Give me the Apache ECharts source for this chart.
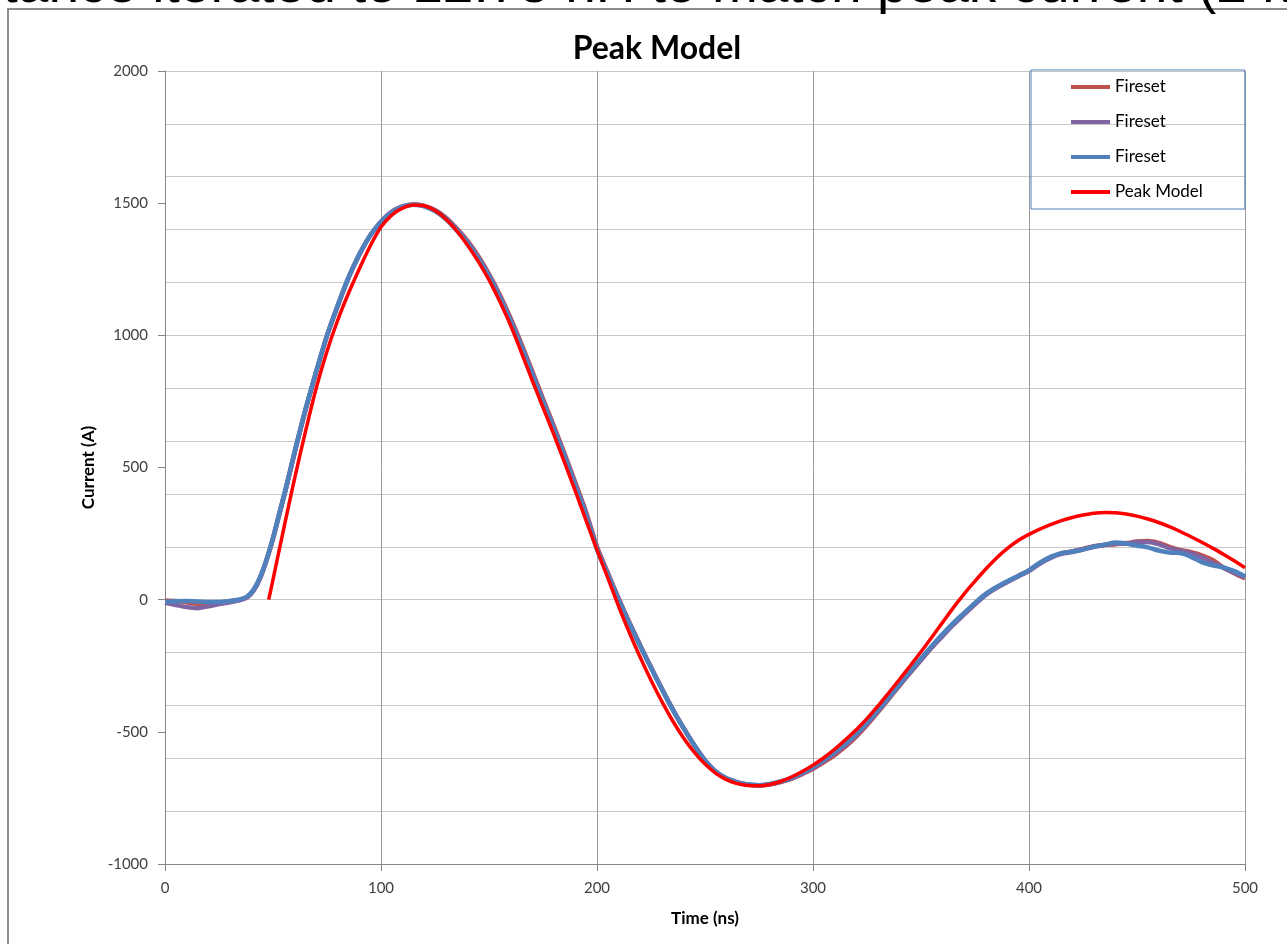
<!DOCTYPE html>
<html><head><meta charset="utf-8">
<script src="https://cdn.jsdelivr.net/npm/echarts@6/dist/echarts.min.js"></script>
<style>html,body{margin:0;padding:0;background:#fff}#c{width:1287px;height:944px}</style>
</head><body><div id="c"></div>
<script>
const chartTitle = 'Peak Model';
const slideTitle = 'Inductance iterated to 12.75 nH to match peak current (2 kV)';
const xName = 'Time (ns)';
const yName = 'Current (A)';
const seriesNames = ['Fireset 1', 'Fireset 2', 'Fireset 3', 'Peak Model'];

const fsTime = [0,5,10,15,20,25,30,35,38,41,44,47,50,53,56,
  60,65,70,75,80,85,90,95,100,105,110,115,120,125,130,135,140,145,150,155,
  160,165,170,175,180,185,190,195,200,205,210,215,220,225,230,235,240,245,250,255,
  260,265,270,275,280,285,290,295,300,305,310,315,320,325,330,335,340,345,350,355,
  360,365,370,375,380,385,390,395,400,405,410,415,420,425,430,435,440,445,450,455,
  460,465,470,475,480,485,490,495,500];

const fireset1 = [-3,-5,-10,-15,-14,-12,-6,0,10,36,82,150,232,326,420,
  555,715,860,998,1112,1218,1306,1378,1430,1468,1488,1495,1490,1474,1446,1405,1358,1300,1232,1154,
  1065,968,865,760,658,552,442,330,200,102,5,-86,-172,-255,-336,-414,-484,-550,-608,-652,
  -678,-692,-700,-703,-699,-690,-678,-660,-640,-615,-588,-556,-518,-474,-426,-376,-326,-276,-228,-180,
  -134,-92,-54,-16,20,46,68,90,110,138,160,175,182,192,202,207,210,214,220,222,
  215,200,188,180,168,150,122,100,80];

const fireset2 = [-12,-20,-28,-32,-25,-17,-10,-2,8,34,80,148,230,324,420,
  556,716,862,998,1112,1218,1306,1378,1430,1467,1488,1494,1489,1472,1443,1402,1354,1295,1228,1148,
  1058,962,858,754,651,546,436,324,195,98,2,-88,-174,-257,-337,-415,-485,-550,-608,-651,
  -677,-691,-699,-702,-698,-689,-676,-658,-636,-610,-581,-550,-512,-469,-422,-374,-324,-276,-228,-181,
  -138,-95,-56,-18,18,45,67,88,108,136,158,173,180,190,200,207,212,212,218,218,
  210,195,185,175,160,140,120,102,85];

const fireset3 = [-8,-6,-5,-7,-9,-9,-5,2,12,38,85,152,235,330,425,
  560,720,865,1000,1115,1220,1308,1378,1430,1466,1487,1494,1488,1470,1440,1398,1350,1290,1222,1142,
  1052,955,852,748,645,540,430,318,190,95,0,-90,-175,-258,-338,-415,-485,-550,-608,-650,
  -676,-690,-699,-702,-697,-688,-674,-655,-632,-606,-576,-545,-508,-465,-418,-370,-320,-270,-222,-175,
  -130,-88,-50,-12,22,48,70,90,112,140,162,176,182,190,200,208,216,212,204,198,
  186,178,176,162,142,130,122,108,88];

const modelTime = [48,50,55,60,65,70,75,80,85,90,95,100,105,110,115,120,125,130,135,140,145,150,155,
  160,165,170,175,180,185,190,195,200,205,210,215,220,225,230,235,240,245,250,255,
  260,265,270,275,280,285,290,295,300,305,310,315,320,325,330,335,340,345,350,355,
  360,365,370,375,380,385,390,395,400,405,410,415,420,425,430,435,440,445,450,455,
  460,465,470,475,480,485,490,495,500];

const peakModel = [0,76,270,458,635,800,940,1058,1160,1252,1338,1410,1455,1481,1493,1490,1472,1440,1396,1342,1280,1210,1128,
  1038,935,830,727,625,518,410,298,188,82,-25,-125,-218,-305,-385,-458,-522,-577,-622,-657,
  -681,-696,-703,-704,-699,-688,-671,-650,-626,-598,-566,-530,-492,-450,-403,-353,-302,-250,-197,-142,
  -86,-30,22,70,116,158,194,224,247,267,284,299,311,320,327,330,329,324,316,305,
  292,276,258,238,217,195,172,147,121];

const yMin = -1000, yMax = 2000, yLabelStep = 500, yGridStep = 200;
const xMin = 0, xMax = 500, xStep = 100;

function pairs(t, v) { return t.map((x, i) => [x, v[i]]); }

const colors = ['#C0504D', '#8064A2', '#4F81BD', '#FF0000'];
const font = 'Lato';
const plain = v => String(v);

const chart = echarts.init(document.getElementById('c'), null, {renderer: 'canvas'});
chart.setOption({
  animation: false,
  backgroundColor: '#fff',
  color: colors,
  title: {
    text: chartTitle, left: 652, top: 28, textAlign: 'center',
    textStyle: {fontFamily: font, fontWeight: 'bold', fontSize: 32, color: '#000'}
  },
  graphic: [
    {type: 'rect', z: -1, shape: {x: 8, y: 9, width: 1400, height: 1000},
     style: {fill: 'none', stroke: '#8c8c8c', lineWidth: 2}},
    {type: 'text', x: -132, y: -13,
     style: {text: slideTitle, fontFamily: 'Liberation Sans', fontSize: 55, fill: '#000', verticalAlign: 'middle', align: 'left'}}
  ],
  legend: {
    orient: 'vertical', left: 1031, top: 70,
    padding: [8, 42, 8, 40],
    borderColor: '#4F81BD', borderWidth: 1,
    icon: 'rect',
    itemWidth: 39, itemHeight: 4, itemGap: 17,
    data: seriesNames,
    formatter: n => n.replace(/ \d$/, ''),
    textStyle: {fontFamily: font, fontSize: 17, lineHeight: 18, color: '#000'}
  },
  grid: {left: 165, right: 42, top: 71, bottom: 80, containLabel: false},
  xAxis: {
    type: 'value', min: xMin, max: xMax, interval: xStep,
    name: xName, nameLocation: 'middle', nameGap: 46,
    nameTextStyle: {fontFamily: font, fontWeight: 'bold', fontSize: 17, color: '#000'},
    axisLine: {onZero: false, lineStyle: {color: '#868686', width: 1}},
    axisTick: {show: true, length: 7, lineStyle: {color: '#868686'}},
    axisLabel: {margin: 17, fontFamily: font, fontSize: 15, color: '#404040', formatter: plain},
    splitLine: {show: true, lineStyle: {color: '#9a9a9a', width: 1}}
  },
  yAxis: [
    {
      type: 'value', min: yMin, max: yMax, interval: yLabelStep,
      name: yName, nameLocation: 'middle', nameGap: 68, nameRotate: 90,
      nameTextStyle: {fontFamily: font, fontWeight: 'bold', fontSize: 17, color: '#000'},
      axisLine: {show: true, onZero: false, lineStyle: {color: '#868686', width: 1}},
      axisTick: {show: true, length: 7, lineStyle: {color: '#868686'}},
      axisLabel: {margin: 17, fontFamily: font, fontSize: 15, color: '#404040', formatter: plain},
      splitLine: {show: false}
    },
    {
      type: 'value', min: yMin, max: yMax, interval: yGridStep, position: 'left',
      axisLine: {show: false}, axisTick: {show: false}, axisLabel: {show: false},
      splitLine: {show: true, lineStyle: {color: '#c8c8c8', width: 1}}
    }
  ],
  series: [
    {name: seriesNames[0], type: 'line', data: pairs(fsTime, fireset1), showSymbol: false, symbol: 'none', smooth: 0.3,
     lineStyle: {width: 4.5, color: colors[0]}},
    {name: seriesNames[1], type: 'line', data: pairs(fsTime, fireset2), showSymbol: false, symbol: 'none', smooth: 0.3,
     lineStyle: {width: 4.5, color: colors[1]}},
    {name: seriesNames[2], type: 'line', data: pairs(fsTime, fireset3), showSymbol: false, symbol: 'none', smooth: 0.3,
     lineStyle: {width: 4.5, color: colors[2]}},
    {name: seriesNames[3], type: 'line', data: pairs(modelTime, peakModel), showSymbol: false, symbol: 'none', smooth: 0.3,
     lineStyle: {width: 3.5, color: colors[3]}}
  ]
});
</script></body></html>
